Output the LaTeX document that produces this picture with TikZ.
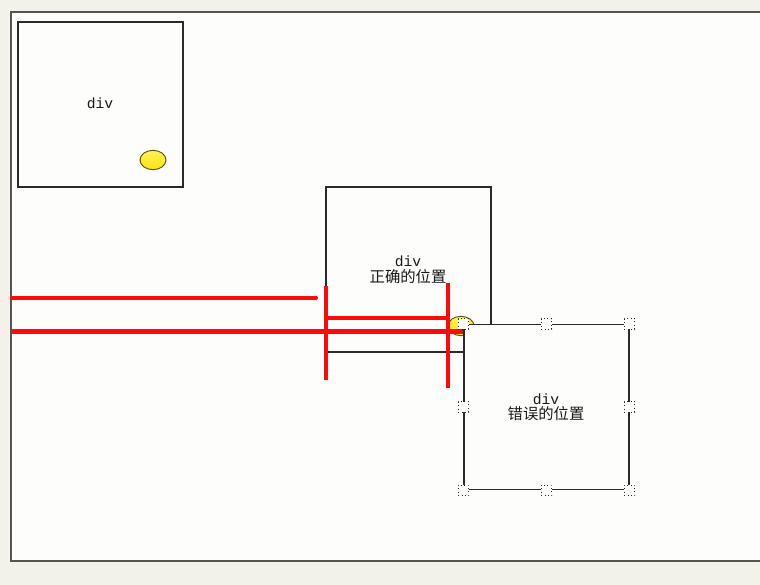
\documentclass[tikz,border=0pt]{standalone}
\usepackage{fontspec}
\setmonofont{Liberation Mono}
\newfontfamily\cjk{Noto Sans CJK SC}
\usetikzlibrary{shapes.geometric}
\definecolor{pagebg}{HTML}{F3F2EA}
\definecolor{canvas}{HTML}{FDFDFB}
\definecolor{frame}{HTML}{555550}
\definecolor{boxline}{HTML}{2A2A2A}
\definecolor{redline}{HTML}{FF0A0A}
\definecolor{ballfill}{HTML}{FFEE10}
\definecolor{ballline}{HTML}{55500A}
\tikzset{
  divbox/.style={draw=boxline, line width=1pt, fill=canvas, minimum width=123.75pt, minimum height=123.75pt, inner sep=0pt},
  ball/.style={ellipse, draw=ballline, line width=0.7pt, top color=ballfill!70!white, bottom color=ballfill!90!orange, minimum width=19.5pt, minimum height=14.5pt, inner sep=0pt},
  lbl/.style={font=\ttfamily\fontsize{11pt}{12pt}\selectfont, inner sep=0pt, text=black!90},
  cjklbl/.style={font=\cjk\fontsize{11.5pt}{13pt}\selectfont, inner sep=0pt, text=black!90},
  redthick/.style={draw=redline, line width=3.8pt},
  redmid/.style={draw=redline, line width=3pt},
  redthin/.style={draw=redline, line width=2.4pt},
  handle/.style={draw=black!85, dotted, line width=0.6pt, fill=canvas, minimum size=7.8pt, inner sep=0pt}
}
\begin{document}
\begin{tikzpicture}[x=0.75pt,y=-0.75pt]
\useasboundingbox (0,0) rectangle (760,585);
\fill[pagebg] (0,0) rectangle (760,585);
\fill[canvas] (11,12) rectangle (762,561);
\draw[frame, line width=1.6pt] (765,12) -- (11,12) -- (11,561) -- (765,561);

% box 1
\node[divbox] (b1) at (100.5,104.5) {};
\node[lbl] (t1) at (100,103) {div};
\node[ball] (e1) at (153,160) {};

% box 2
\node[divbox] (b2) at (408.5,269.5) {};
\node[lbl] (t2) at (408,261) {div};
\node[cjklbl] (c2) at (408,277) {正确的位置};
\node[ball] (e2) at (461,326) {};

% red lines
\coordinate (l1a) at (12,297.5);
\coordinate (l1b) at (316,297.5);
\coordinate (l2a) at (12,331.5);
\coordinate (l2b) at (463,331.5);
\coordinate (h3a) at (326,318);
\coordinate (h3b) at (448,318);
\coordinate (v1a) at (326,286);
\coordinate (v1b) at (326,380);
\coordinate (v2a) at (448,283);
\coordinate (v2b) at (448,388);
\draw[redmid, line cap=round] (l1a) -- (l1b);
\draw[redthin] (h3a) -- (h3b);
\draw[redthin] (v1a) -- (v1b);
\draw[redthin] (v2a) -- (v2b);
\draw[redthick] (l2a) -- (l2b);

% box 3
\node[divbox] (b3) at (546.5,407) {};
\node[lbl] (t3) at (546,399) {div};
\node[cjklbl] (c3) at (546,414) {错误的位置};

% selection handles
\foreach \a in {north west, north, north east, west, east, south west, south, south east}
  \node[handle] at (b3.\a) {};
\end{tikzpicture}
\end{document}
